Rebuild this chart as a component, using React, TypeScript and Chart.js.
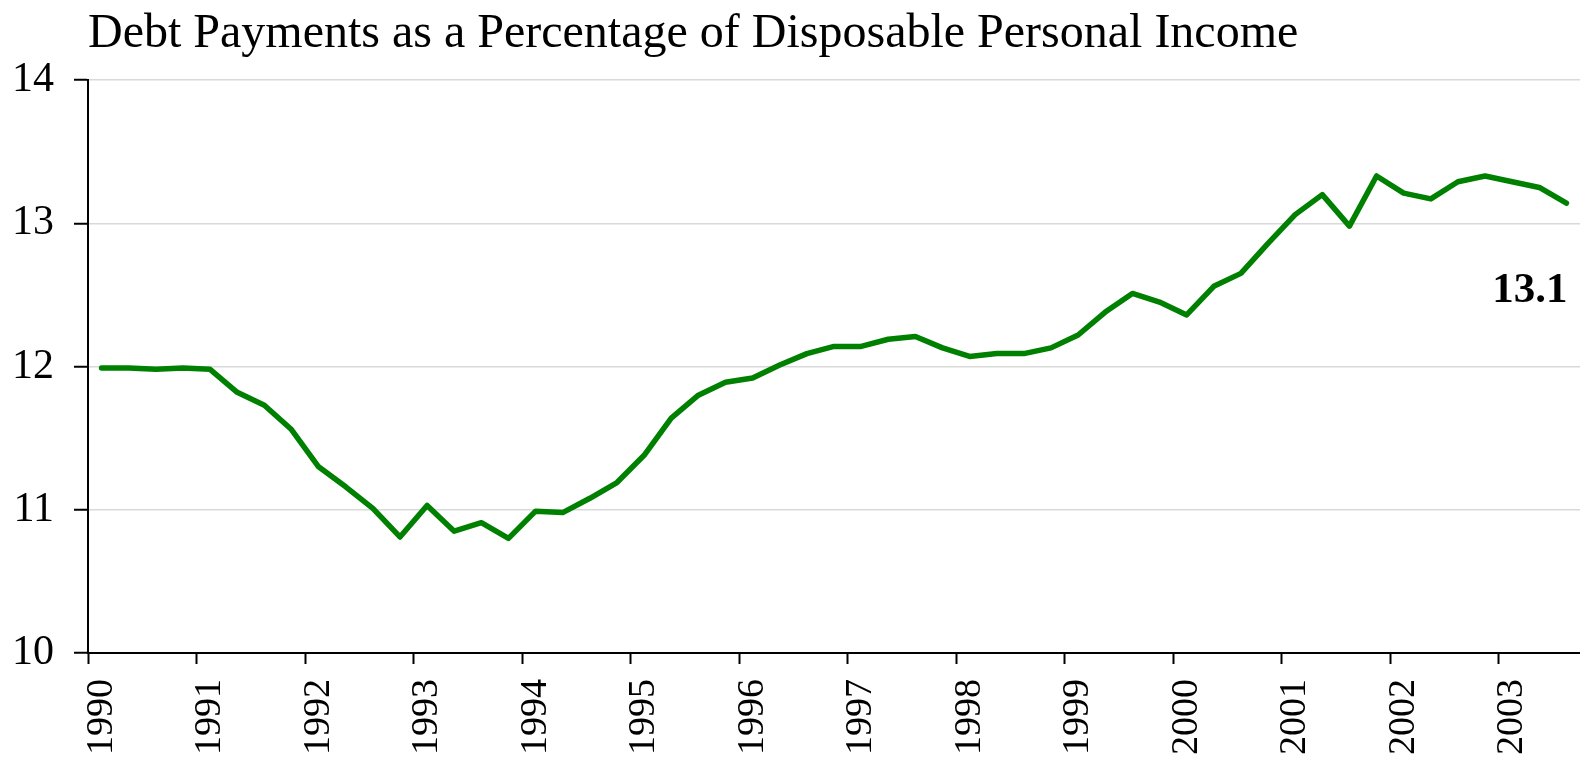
import React, { useEffect, useRef } from 'react';
import { Chart, registerables } from 'chart.js';

Chart.register(...registerables);

const FONT = '"Liberation Serif", "Times New Roman", serif';

const titleText = 'Debt Payments as a Percentage of Disposable Personal Income';

const quarterLabels: string[] = [
  '1990 Q1', '1990 Q2', '1990 Q3', '1990 Q4',
  '1991 Q1', '1991 Q2', '1991 Q3', '1991 Q4',
  '1992 Q1', '1992 Q2', '1992 Q3', '1992 Q4',
  '1993 Q1', '1993 Q2', '1993 Q3', '1993 Q4',
  '1994 Q1', '1994 Q2', '1994 Q3', '1994 Q4',
  '1995 Q1', '1995 Q2', '1995 Q3', '1995 Q4',
  '1996 Q1', '1996 Q2', '1996 Q3', '1996 Q4',
  '1997 Q1', '1997 Q2', '1997 Q3', '1997 Q4',
  '1998 Q1', '1998 Q2', '1998 Q3', '1998 Q4',
  '1999 Q1', '1999 Q2', '1999 Q3', '1999 Q4',
  '2000 Q1', '2000 Q2', '2000 Q3', '2000 Q4',
  '2001 Q1', '2001 Q2', '2001 Q3', '2001 Q4',
  '2002 Q1', '2002 Q2', '2002 Q3', '2002 Q4',
  '2003 Q1', '2003 Q2', '2003 Q3',
];

const debtRatio: number[] = [
  11.99, 11.99, 11.98, 11.99,
  11.98, 11.82, 11.73, 11.56,
  11.30, 11.16, 11.01, 10.81,
  11.03, 10.85, 10.91, 10.80,
  10.99, 10.98, 11.08, 11.19,
  11.38, 11.64, 11.80, 11.89,
  11.92, 12.01, 12.09, 12.14,
  12.14, 12.19, 12.21, 12.13,
  12.07, 12.09, 12.09, 12.13,
  12.22, 12.38, 12.51, 12.45,
  12.36, 12.56, 12.65, 12.86,
  13.06, 13.20, 12.98, 13.33,
  13.21, 13.17, 13.29, 13.33,
  13.29, 13.25, 13.14,
];

const yTicks: number[] = [10, 11, 12, 13, 14];

const lastValueLabel: string[] = ['13.1'];
const lastValueLabelAnchor: number[] = [12.45];

const lastLabelPlugin = {
  id: 'lastLabel',
  afterDatasetsDraw(chart: any) {
    const { ctx, scales } = chart;
    const xs = scales.x;
    const ys = scales.y;
    const i = debtRatio.length - 1;
    ctx.save();
    ctx.font = `bold 43px ${FONT}`;
    ctx.fillStyle = '#000';
    ctx.textAlign = 'right';
    ctx.textBaseline = 'alphabetic';
    ctx.fillText(lastValueLabel[0], xs.getPixelForValue(i) + 1, ys.getPixelForValue(lastValueLabelAnchor[0]));
    ctx.restore();
  },
};

export default function App() {
  const canvasRef = useRef<HTMLCanvasElement | null>(null);

  useEffect(() => {
    if (!canvasRef.current) return;
    const chart = new Chart(canvasRef.current, {
      type: 'line',
      data: {
        labels: quarterLabels,
        datasets: [
          {
            label: 'Debt payments (% of DPI)',
            data: debtRatio,
            borderColor: '#008000',
            backgroundColor: '#008000',
            borderWidth: 5.5,
            pointRadius: 0,
            pointHoverRadius: 0,
            tension: 0,
            borderCapStyle: 'round',
            borderJoinStyle: 'round',
            fill: false,
          },
        ],
      },
      options: {
        animation: false,
        responsive: true,
        maintainAspectRatio: false,
        layout: { padding: { left: 0, right: 0, top: 0, bottom: 0 } },
        plugins: {
          legend: { display: false },
          tooltip: { enabled: false },
          title: {
            display: true,
            text: titleText,
            align: 'start',
            fullSize: false,
            color: '#000',
            font: { family: FONT, size: 48, weight: 'normal', lineHeight: 1.2 },
            padding: { top: 6, bottom: 16.4 },
          },
        },
        scales: {
          x: {
            type: 'category',
            offset: true,
            grid: {
              offset: true,
              drawOnChartArea: false,
              drawTicks: true,
              tickLength: 11,
              tickWidth: 2,
              tickColor: (ctx: any) => (ctx.index % 4 === 0 ? '#000' : 'rgba(0,0,0,0)'),
            },
            border: { display: true, color: '#000', width: 2 },
            ticks: {
              autoSkip: false,
              maxRotation: 90,
              minRotation: 90,
              padding: 15,
              color: '#000',
              font: { family: FONT, size: 38 },
              callback: (_v: any, index: number) =>
                quarterLabels[index].endsWith('Q1') ? quarterLabels[index].slice(0, 4) : '',
            },
            afterFit: (scale: any) => {
              scale.height = 104;
              scale.paddingLeft = 0;
              scale.paddingRight = 0;
            },
          },
          y: {
            min: yTicks[0],
            max: yTicks[yTicks.length - 1],
            grid: {
              color: '#d9d9d9',
              lineWidth: 1.5,
              tickColor: '#000',
              tickLength: 14,
              tickWidth: 2,
            },
            border: { display: true, color: '#000', width: 2 },
            ticks: {
              stepSize: 1,
              padding: 20,
              color: '#000',
              font: { family: FONT, size: 42 },
            },
            afterFit: (scale: any) => {
              scale.width = 88;
            },
          },
        },
      },
      plugins: [lastLabelPlugin],
    } as any);
    return () => chart.destroy();
  }, []);

  return (
    <div style={{ position: 'absolute', left: 0, top: 0, width: 1580, height: 757, background: '#fff' }}>
      <canvas ref={canvasRef} />
    </div>
  );
}
